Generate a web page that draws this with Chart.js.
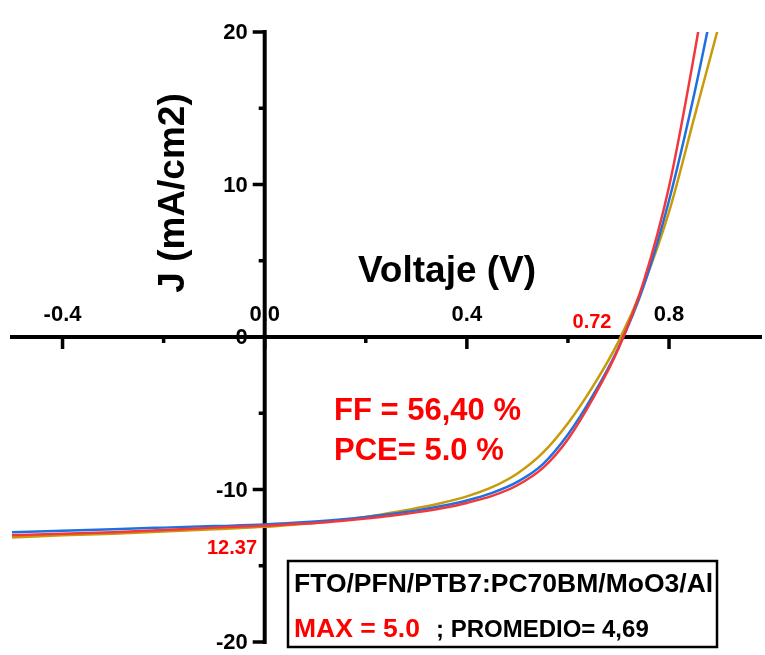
<!DOCTYPE html>
<html>
<head>
<meta charset="utf-8">
<script src="https://cdn.jsdelivr.net/npm/chart.js"></script>
<style>
  body { margin: 0; background: #fff; }
  #wrap { width: 765px; height: 655px; }
</style>
</head>
<body>
<div id="wrap"><canvas id="chart" width="765" height="655"></canvas></div>
<script>
// voltage grid (V) and current density (mA/cm2) of the three cells
const voltage = [-0.5, -0.4, -0.3, -0.2, -0.1, 0, 0.05, 0.1, 0.15, 0.2, 0.25, 0.3, 0.35, 0.4, 0.45, 0.5, 0.55, 0.6, 0.65, 0.7, 0.75, 0.8, 0.85, 0.9];
const jRed  = [-13.0, -12.9, -12.8, -12.65, -12.5, -12.37, -12.28, -12.19, -12.06, -11.9, -11.72, -11.5, -11.23, -10.88, -10.42, -9.72, -8.6, -6.7, -4.0, -0.75, 3.65, 9.85, 18.55, 28.5];
const jBlue = [-12.8, -12.7, -12.6, -12.5, -12.4, -12.3, -12.2, -12.1, -11.97, -11.8, -11.6, -11.37, -11.08, -10.72, -10.22, -9.5, -8.35, -6.4, -3.8, -0.7, 3.35, 8.95, 15.95, 23.95];
const jGold = [-13.15, -13.0, -12.9, -12.75, -12.6, -12.45, -12.32, -12.2, -12.02, -11.8, -11.52, -11.22, -10.88, -10.45, -9.85, -8.95, -7.6, -5.65, -3.2, -0.3, 3.45, 8.2, 14.4, 20.6];

const xTicks = [-0.4, 0, 0.4, 0.8];
const xTickLabels = ['-0.4', '0.0', '0.4', '0.8'];
const xMinorTicks = [-0.2, 0.2, 0.6];
const yTicks = [-20, -10, 0, 10, 20];
const yMinorTicks = [-15, -5, 5, 15];

const FONT = '"Liberation Sans", Arial, sans-serif';

function toPoints(js) {
  return voltage.map((v, i) => ({ x: v, y: js[i] }));
}

// cross axes through the origin, labels, and notes
const axesPlugin = {
  id: 'axesPlugin',
  beforeDatasetsDraw(chart) {
    const ctx = chart.ctx;
    const xs = chart.scales.x, ys = chart.scales.y;
    const area = chart.chartArea;
    const x0 = xs.getPixelForValue(0);
    const y0 = ys.getPixelForValue(0);
    ctx.save();
    ctx.fillStyle = '#000';

    // tick labels first, the axis lines go over them
    ctx.font = 'bold 22px ' + FONT;
    ctx.textAlign = 'center';
    ctx.textBaseline = 'middle';
    xTicks.forEach((v, i) => {
      ctx.fillText(xTickLabels[i], xs.getPixelForValue(v), y0 - 22);
    });
    ctx.textAlign = 'right';
    yTicks.forEach(v => {
      ctx.fillText(String(v), x0 - 17, ys.getPixelForValue(v) + 1);
    });

    ctx.strokeStyle = '#000';
    ctx.lineWidth = 4;
    ctx.beginPath();
    ctx.moveTo(area.left - 2, y0);
    ctx.lineTo(area.right + 2, y0);
    ctx.moveTo(x0, area.top - 2);
    ctx.lineTo(x0, area.bottom + 2);
    ctx.stroke();

    ctx.lineWidth = 3.5;
    ctx.beginPath();
    xTicks.forEach(v => {
      const p = xs.getPixelForValue(v);
      ctx.moveTo(p, y0); ctx.lineTo(p, y0 + 12);
    });
    xMinorTicks.forEach(v => {
      const p = xs.getPixelForValue(v);
      ctx.moveTo(p, y0); ctx.lineTo(p, y0 + 6);
    });
    yTicks.forEach(v => {
      const p = ys.getPixelForValue(v);
      ctx.moveTo(x0, p); ctx.lineTo(x0 - 12, p);
    });
    yMinorTicks.forEach(v => {
      const p = ys.getPixelForValue(v);
      ctx.moveTo(x0, p); ctx.lineTo(x0 - 6, p);
    });
    ctx.stroke();

    // axis titles
    ctx.font = 'bold 37px ' + FONT;
    ctx.textAlign = 'center';
    ctx.fillText('Voltaje (V)', 447, 272);
    ctx.save();
    ctx.translate(174, 193);
    ctx.rotate(-Math.PI / 2);
    ctx.fillText('J (mA/cm2)', 0, 0);
    ctx.restore();
    ctx.restore();
  },
  afterDatasetsDraw(chart) {
    const ctx = chart.ctx;
    ctx.save();
    ctx.textBaseline = 'middle';

    ctx.fillStyle = '#ff0000';
    ctx.font = 'bold 20px ' + FONT;
    ctx.textAlign = 'center';
    ctx.fillText('0.72', 592, 322);
    ctx.fillText('12.37', 232, 548);

    ctx.textAlign = 'left';
    ctx.font = 'bold 31px ' + FONT;
    ctx.fillText('FF = 56,40 %', 334, 411);
    ctx.fillText('PCE= 5.0 %', 334, 451);

    // info box
    ctx.fillStyle = '#fff';
    ctx.fillRect(288, 561, 429, 86);
    ctx.strokeStyle = '#000';
    ctx.lineWidth = 2.5;
    ctx.strokeRect(288, 561, 429, 86);

    ctx.fillStyle = '#000';
    ctx.font = 'bold 26.5px ' + FONT;
    ctx.fillText('FTO/PFN/PTB7:PC70BM/MoO3/Al', 294, 585);
    ctx.fillStyle = '#ff0000';
    ctx.fillText('MAX = 5.0', 294, 630);
    ctx.fillStyle = '#000';
    ctx.font = 'bold 24px ' + FONT;
    ctx.fillText('; PROMEDIO= 4,69', 436, 630);
    ctx.restore();
  }
};

window.onload = () => {
  let ctx = document.getElementById("chart").getContext('2d');

  let myChart = new Chart(ctx, {
    type: 'line',
    data: {
      datasets: [
        { label: 'celda 1', data: toPoints(jRed), borderColor: '#f2383c', borderWidth: 2.5 },
        { label: 'celda 2', data: toPoints(jBlue), borderColor: '#1f6fe0', borderWidth: 2.5 },
        { label: 'celda 3', data: toPoints(jGold), borderColor: '#c99a0a', borderWidth: 2.5 }
      ]
    },
    options: {
      responsive: false,
      animation: false,
      layout: { padding: { left: 12, right: 5, top: 32, bottom: 13 } },
      elements: {
        point: { radius: 0 },
        line: { cubicInterpolationMode: 'monotone', fill: false }
      },
      scales: {
        x: { type: 'linear', min: -0.5, max: 0.98, display: false },
        y: { type: 'linear', min: -20, max: 20, display: false }
      },
      plugins: {
        legend: { display: false },
        tooltip: { enabled: false }
      }
    },
    plugins: [axesPlugin]
  });
};
</script>
</body>
</html>
